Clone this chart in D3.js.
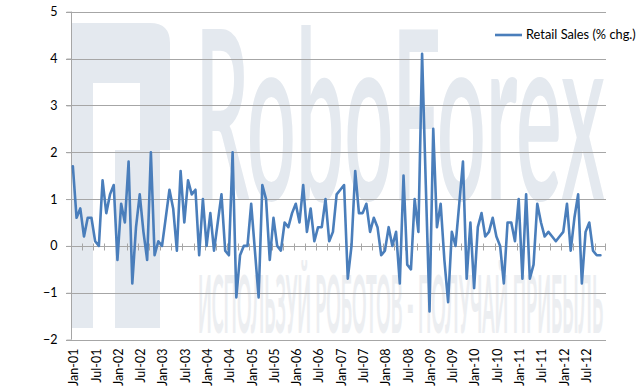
<!DOCTYPE html>
<html>
<head>
<meta charset="utf-8">
<script src="https://cdn.jsdelivr.net/npm/d3@7"></script>
<style>
  html, body { margin: 0; padding: 0; background: #fff; }
  svg { display: block; }
  text { font-family: Lato, "Open Sans", sans-serif; }
</style>
</head>
<body>
<svg id="chart" width="640" height="392"></svg>
<script>
// ---- data ----
const months = ["Jan","Feb","Mar","Apr","May","Jun","Jul","Aug","Sep","Oct","Nov","Dec"];
const years = ["01","02","03","04","05","06","07","08","09","10","11","12"];
const categories = years.flatMap(y => months.map(m => `${m}-${y}`));
const seriesName = "Retail Sales (% chg.)";
const retailSales = [
  1.7, 0.6, 0.8, 0.2, 0.6, 0.6, 0.1, 0.0, 1.4, 0.7, 1.1, 1.3,
 -0.3, 0.9, 0.5, 1.8,-0.8, 0.4, 1.1, 0.3,-0.3, 2.0,-0.2, 0.1,
  0.0, 0.6, 1.2, 0.8,-0.1, 1.6, 0.5, 1.4, 1.1, 1.2,-0.2, 1.0,
  0.0, 0.7,-0.1, 0.5, 1.1,-0.1,-0.2, 2.0,-1.1,-0.2, 0.0, 0.0,
  0.9,-0.1,-1.1, 1.3, 1.0,-0.3, 0.6, 0.0,-0.1, 0.5, 0.4, 0.7,
  0.9, 0.5, 1.3, 0.3, 0.8, 0.1, 0.4, 0.4, 1.0, 0.1, 0.3, 1.1,
  1.2, 1.3,-0.7, 0.0, 1.6, 0.7, 0.7, 0.9, 0.3, 0.6, 0.4,-0.2,
 -0.1, 0.4, 0.0, 0.3,-0.8, 1.5,-0.4,-0.5, 1.0, 0.3, 4.1, 1.3,
 -1.4, 2.5, 0.4, 0.9,-0.3,-1.2, 0.3, 0.0, 0.9, 1.8,-0.7, 0.5,
 -0.9, 0.4, 0.7, 0.2, 0.3, 0.6, 0.2, 0.0,-0.8, 0.5, 0.5, 0.1,
  1.0,-0.7, 1.1,-0.7,-0.4, 0.9, 0.5, 0.2, 0.3, 0.2, 0.1, 0.2,
  0.3, 0.9,-0.1, 0.6, 1.1,-0.8, 0.3, 0.5,-0.1,-0.2,-0.2
];
const yTicks = [-2, -1, 0, 1, 2, 3, 4, 5];
const labelEvery = 6;
const tickEvery = 3;

// ---- layout ----
const svg = d3.select("#chart");
const plotL = 71, plotR = 606, plotT = 11.7, plotB = 339.6;
const gridColor = "#a6a6a6";
const lineColor = "#4a7ebb";

const x = d3.scaleBand().domain(categories).range([plotL, plotR]).padding(0);
const y = d3.scaleLinear().domain([-2, 5]).range([plotB, plotT]);
const cx = c => x(c) + x.bandwidth() / 2;

// ---- watermark (background) ----
const wm = svg.append("g").attr("class", "watermark");
const wmFill = "#e4e9ef";
wm.append("path")
  .attr("fill", wmFill)
  .attr("d", "M71,23 H150 Q170,23 170,43 V150 H160 V328 H115 V150 H140 V83 H93 V328 H71 Z");

function squeezedText(txt, x0, yBase, size, weight, width, fill) {
  const t = wm.append("text")
    .attr("x", 0).attr("y", 0)
    .attr("font-size", size).attr("font-weight", weight)
    .attr("font-family", "'Open Sans', sans-serif")
    .attr("fill", fill)
    .text(txt);
  const natural = t.node().getComputedTextLength();
  t.attr("transform", `translate(${x0},${yBase}) scale(${width / natural},1)`);
}
squeezedText("RoboForex", 195, 200, 238, 600, 410, wmFill);
squeezedText("ИСПОЛЬЗУЙ РОБОТОВ - ПОЛУЧАЙ ПРИБЫЛЬ", 198, 333, 80, 700, 405, "#eceef1");

// ---- gridlines ----
svg.append("g").selectAll("line").data(yTicks).join("line")
  .attr("x1", plotL - 5).attr("x2", plotR)
  .attr("y1", d => Math.round(y(d)) + 0.5).attr("y2", d => Math.round(y(d)) + 0.5)
  .attr("stroke", gridColor).attr("stroke-width", 1);

// ---- y axis ----
const yAxis = d3.axisLeft(y).tickValues(yTicks).tickSize(5).tickPadding(9).tickFormat(d3.format("d"));
const gy = svg.append("g").attr("transform", `translate(${plotL + 0.5},0)`).call(yAxis);
gy.select(".domain").attr("stroke", gridColor).attr("d", `M0,${plotT}V${plotB}`);
gy.selectAll(".tick line").attr("stroke", gridColor);
gy.selectAll(".tick text").attr("font-size", 12.5).attr("fill", "#000")
  .attr("font-family", "Lato, 'Open Sans', sans-serif");

// ---- x axis at zero ----
const zeroY = Math.round(y(0)) + 0.5;
const tickCats = categories.filter((c, i) => i % tickEvery === 0);
const gx = svg.append("g");
gx.selectAll("line").data(tickCats).join("line")
  .attr("x1", d => Math.round(x(d)) + 0.5).attr("x2", d => Math.round(x(d)) + 0.5)
  .attr("y1", zeroY - 3).attr("y2", zeroY + 4)
  .attr("stroke", gridColor);
gx.append("line")
  .attr("x1", plotR - 0.5).attr("x2", plotR - 0.5)
  .attr("y1", zeroY - 3).attr("y2", zeroY + 4).attr("stroke", gridColor);

// category labels at bottom
const labelCats = categories.filter((c, i) => i % labelEvery === 0);
svg.append("g").selectAll("text").data(labelCats).join("text")
  .attr("transform", d => `translate(${cx(d) + 1},${plotB + 9}) rotate(-90)`)
  .attr("text-anchor", "end")
  .attr("dy", "0.35em")
  .attr("font-size", 12.5).attr("fill", "#000")
  .text(d => d);

// ---- line ----
const pts = retailSales.map((v, i) => ({ c: categories[i], v }));
svg.append("path").datum(pts)
  .attr("fill", "none").attr("stroke", lineColor).attr("stroke-width", 2.6)
  .attr("stroke-linejoin", "round").attr("stroke-linecap", "round")
  .attr("d", d3.line().x(d => cx(d.c)).y(d => y(d.v)));

// ---- legend ----
const lg = svg.append("g");
lg.append("line").attr("x1", 495).attr("x2", 522).attr("y1", 35).attr("y2", 35)
  .attr("stroke", lineColor).attr("stroke-width", 2.6);
lg.append("text").attr("x", 526).attr("y", 35).attr("dy", "0.35em")
  .attr("font-size", 12.8).attr("fill", "#000").text(seriesName);
</script>
</body>
</html>
